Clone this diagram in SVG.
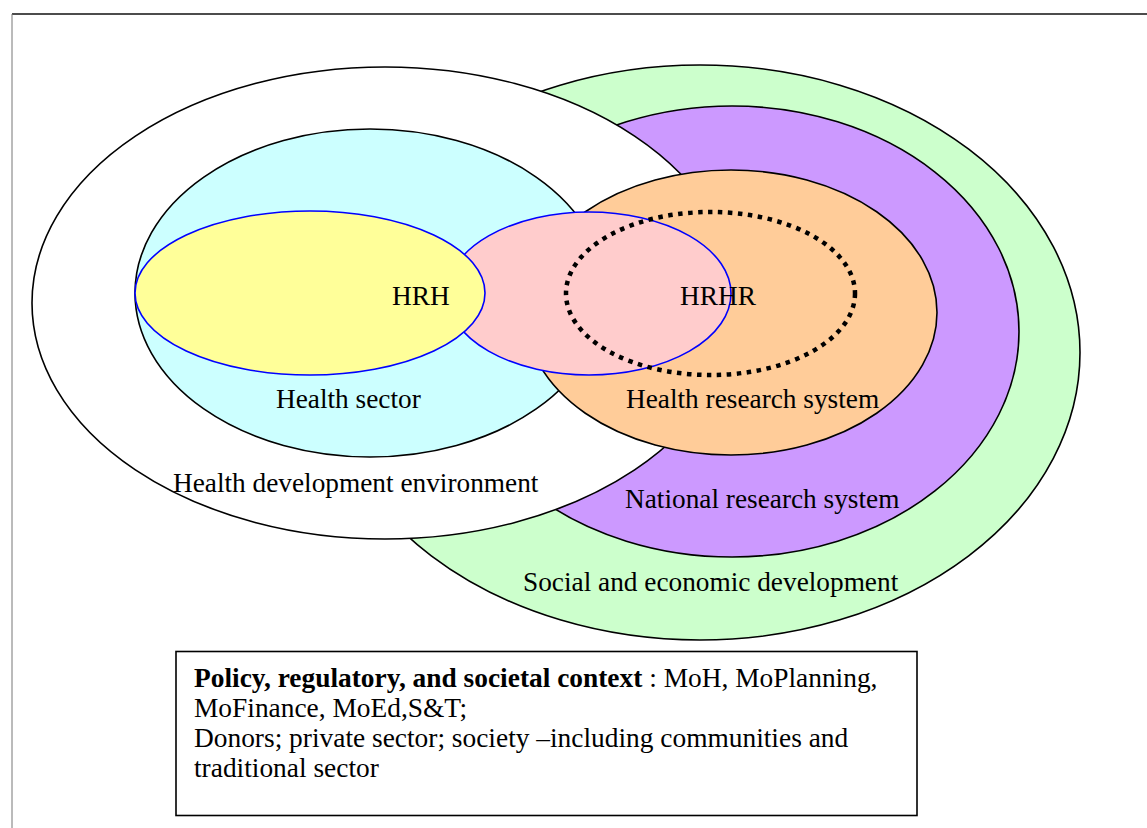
<svg xmlns="http://www.w3.org/2000/svg" width="1147" height="828" viewBox="0 0 1147 828">
<style>
.ol{stroke:#000;stroke-width:1.6}
.bl{stroke:#0000FF;stroke-width:1.6}
.lbl{font-family:"Liberation Serif","Times New Roman",serif;font-size:27.3px;fill:#000}
.box{font-family:"Liberation Serif","Times New Roman",serif;font-size:27.4px;fill:#000}
</style>
<rect x="0" y="0" width="1147" height="828" fill="#fff"/>
<g id="frame">
<line x1="12" y1="14" x2="1147" y2="14" stroke="#111" stroke-width="1.6"/>
<line x1="12" y1="14" x2="12" y2="828" stroke="#777" stroke-width="1"/>
</g>
<g id="social-economic-development">
<ellipse class="ol" cx="700" cy="352.5" rx="380" ry="287.5" fill="#CCFFCC"/>
</g>
<g id="national-research-system">
<ellipse class="ol" cx="732" cy="331.5" rx="287" ry="225.5" fill="#CC99FF"/>
</g>
<g id="health-development-environment">
<ellipse class="ol" cx="385" cy="303" rx="353" ry="236" fill="#FFFFFF"/>
</g>
<g id="health-sector">
<ellipse class="ol" cx="370" cy="293" rx="235" ry="164" fill="#CCFFFF"/>
</g>
<g id="health-research-system">
<ellipse class="ol" cx="731" cy="312.5" rx="206" ry="142.5" fill="#FFCC99"/>
</g>
<g id="pink-overlap">
<ellipse class="bl" cx="589" cy="293.5" rx="142" ry="81.5" fill="#FFCCCC"/>
</g>
<g id="hrh">
<ellipse class="bl" cx="310" cy="293" rx="175" ry="82" fill="#FFFF99"/>
</g>
<g id="hrhr">
<ellipse cx="710.5" cy="293.5" rx="144.5" ry="81.5" fill="none" stroke="#000" stroke-width="4.5" stroke-dasharray="4.5 5.5"/>
</g>
<g id="connectors"></g>
<g id="labels">
<text class="lbl" x="392" y="305">HRH</text>
<text class="lbl" x="680" y="305">HRHR</text>
<text class="lbl" x="276" y="408">Health sector</text>
<text class="lbl" x="626" y="408">Health research system</text>
<text class="lbl" x="173" y="492">Health development environment</text>
<text class="lbl" x="625" y="508">National research system</text>
<text class="lbl" x="523" y="591">Social and economic development</text>
</g>
<g id="context-box">
<rect x="176" y="651.5" width="741" height="164" fill="#fff" stroke="#000" stroke-width="1.6"/>
<text class="box" x="194" y="686.5"><tspan font-weight="bold">Policy, regulatory, and societal context</tspan> : MoH, MoPlanning,</text>
<text class="box" x="194" y="717">MoFinance, MoEd,S&amp;T;</text>
<text class="box" x="194" y="747">Donors; private sector; society –including communities and</text>
<text class="box" x="194" y="777">traditional sector</text>
</g>
</svg>
